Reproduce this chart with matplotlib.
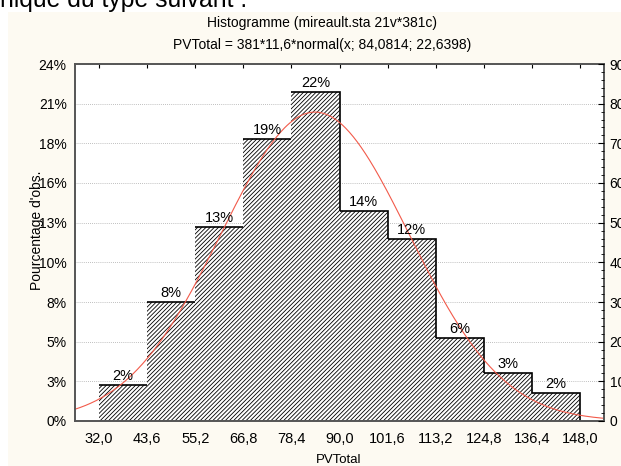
import numpy as np
import matplotlib
matplotlib.use("Agg")
import matplotlib.pyplot as plt
from matplotlib.patches import Rectangle
from matplotlib.ticker import MultipleLocator

plt.rcParams['font.family'] = ['Liberation Sans', 'DejaVu Sans']
plt.rcParams['hatch.linewidth'] = 0.6

# ---- data ----
bin_edges = [32.0, 43.6, 55.2, 66.8, 78.4, 90.0, 101.6, 113.2, 124.8, 136.4, 148.0]
edge_labels = ["32,0", "43,6", "55,2", "66,8", "78,4", "90,0", "101,6", "113,2", "124,8", "136,4", "148,0"]
counts = [9, 30, 49, 71, 83, 53, 46, 21, 12, 7]
bar_labels = ["2%", "8%", "13%", "19%", "22%", "14%", "12%", "6%", "3%", "2%"]
count_ticks = [0, 10, 20, 30, 40, 50, 60, 70, 80, 90]
pct_tick_labels = ["0%", "3%", "5%", "8%", "10%", "13%", "16%", "18%", "21%", "24%"]
n_obs = 381
bin_width = 11.6
mean = 84.0814
sd = 22.6398

W, H = 621, 466
fig = plt.figure(figsize=(W / 100, H / 100), dpi=100)
fig.patch.set_facecolor("white")
# cream chart background
fig.patches.append(Rectangle((8 / W, 0), 1, (H - 12) / H, transform=fig.transFigure,
                             facecolor="#FDFAF2", edgecolor="none", zorder=-10))
# cropped document text on top
fig.text(0 / W, 1 - 7 / H, "nique du type suivant :", fontsize=17.8, color="black",
         ha="left", va="baseline", zorder=5)

ax = fig.add_axes([75 / W, (H - 421) / H, (604 - 75) / W, (421 - 64) / H])
ax.set_facecolor("white")

lefts = bin_edges[:-1]
rights = bin_edges[1:]
widths = [b - a for a, b in zip(lefts, rights)]
ax.bar(lefts, counts, width=widths, align="edge", facecolor="white",
       edgecolor="black", linewidth=0, hatch="////////", zorder=2)
# outline: top of each bar, plus the right edge where the next bar is lower
next_counts = counts[1:] + [0]
for x0, x1, c, cn in zip(lefts, rights, counts, next_counts):
    xs_e, ys_e = [x0, x1], [c, c]
    if cn < c:
        xs_e.append(x1)
        ys_e.append(cn)
    ax.plot(xs_e, ys_e, color="black", linewidth=1.2, solid_joinstyle="miter",
            solid_capstyle="butt", zorder=3)

xlim = (26.2, 153.8)
ax.set_xlim(*xlim)
ax.set_ylim(0, 90)

xs = np.linspace(xlim[0], xlim[1], 400)
ys = n_obs * bin_width * np.exp(-0.5 * ((xs - mean) / sd) ** 2) / (sd * np.sqrt(2 * np.pi))
ax.plot(xs, ys, color="#F25A4A", linewidth=0.8, zorder=50)

for x0, w, c, lab in zip(lefts, widths, counts, bar_labels):
    ax.text(x0 + w / 2, c + 0.5, lab, ha="center", va="bottom", fontsize=10.5, zorder=51)

ax.set_yticks(count_ticks)
ax.set_yticklabels(pct_tick_labels, fontsize=10)
ax.set_xticks(bin_edges)
ax.set_xticklabels(edge_labels, fontsize=10.5)
ax.yaxis.grid(True, linestyle=(0, (1, 1.5)), color="#AAAAAA", linewidth=0.6, zorder=0)
ax.set_axisbelow(True)
ax.tick_params(axis="y", left=False, right=False, length=0, pad=6)
ax.tick_params(axis="x", bottom=False, top=True, direction="in", length=3,
               color="black", pad=8)
ax.tick_params(axis="x", labeltop=False)

for s in ax.spines.values():
    s.set_color("#555555")
    s.set_linewidth(1.4)
    s.set_zorder(60)

ax2 = ax.twinx()
ax2.set_ylim(0, 90)
ax2.set_yticks(count_ticks)
ax2.set_yticklabels([str(v) for v in count_ticks], fontsize=10)
ax2.yaxis.set_minor_locator(MultipleLocator(2))
ax2.tick_params(axis="y", which="major", direction="in", length=4, color="black", pad=4)
ax2.tick_params(axis="y", which="minor", direction="in", length=2, color="black")
for s in ax2.spines.values():
    s.set_visible(False)

fig.text(322 / W, 1 - 23 / H, "Histogramme (mireault.sta 21v*381c)", fontsize=10,
         ha="center", va="center")
fig.text(322 / W, 1 - 45 / H, "PVTotal = 381*11,6*normal(x; 84,0814; 22,6398)", fontsize=10,
         ha="center", va="center")
fig.text(339 / W, 1 - 460 / H, "PVTotal", fontsize=9.5, ha="center", va="center")
fig.text(37 / W, 1 - 230 / H, "Pourcentage d'obs.", fontsize=10, rotation=90,
         ha="center", va="center")

fig.savefig("out.png", dpi=100)
